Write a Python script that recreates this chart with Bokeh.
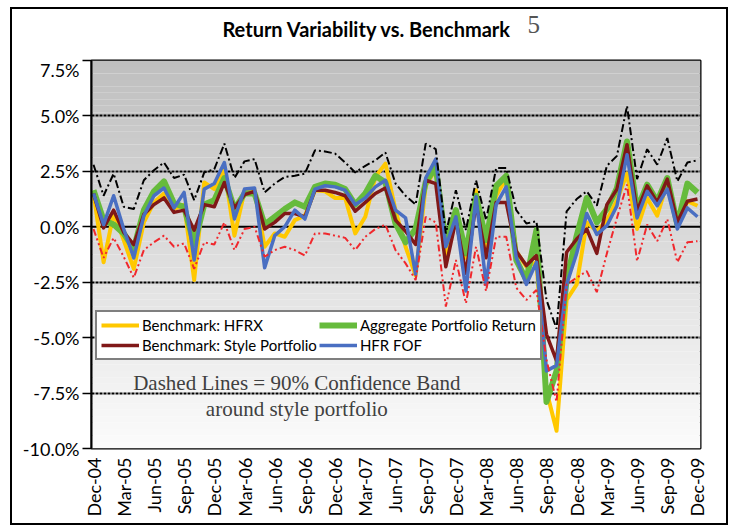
import math
from bokeh.plotting import figure
from bokeh.layouts import column
from bokeh.models import (Range1d, FixedTicker, Span, Label, Legend, LegendItem,
                          PrintfTickFormatter)
from bokeh.embed import file_html
from bokeh.resources import INLINE

# ---------------- data (monthly returns, %) ----------------
months = list(range(61))  # Dec-04 ... Dec-09
tick_labels = ["Dec-04", "Mar-05", "Jun-05", "Sep-05", "Dec-05", "Mar-06", "Jun-06",
               "Sep-06", "Dec-06", "Mar-07", "Jun-07", "Sep-07", "Dec-07", "Mar-08",
               "Jun-08", "Sep-08", "Dec-08", "Mar-09", "Jun-09", "Sep-09", "Dec-09"]
y_ticks = [7.5, 5.0, 2.5, 0.0, -2.5, -5.0, -7.5, -10.0]

hfrx = [1.5, -1.6, 0.6, -0.6, -1.9, 0.2, 1.1, 1.5, 0.8, 1.0,
        -2.4, 2.0, 1.7, 2.6, -0.4, 1.6, 1.65, -0.9, -0.3, -0.45,
        0.3, 0.5, 1.65, 1.6, 1.3, 1.3, -0.3, 0.45, 2.25, 2.85,
        0.75, -0.9, -2.2, 1.85, 2.6, -1.35, 0.5, -1.4, 1.65, -1.1,
        1.4, 2.2, -1.1, -1.8, -1.6, -7.4, -9.2, -3.3, -2.6, 0.2,
        -0.2, 0.3, 1.2, 2.4, -0.1, 1.3, 0.5, 2.0, 0.1, 1.15, 0.95]
aggregate = [1.65, 0.3, 0.1, -0.3, -1.0, 0.75, 1.6, 2.05, 1.05, 0.9,
             -0.8, 1.0, 1.2, 2.2, 0.8, 1.5, 1.5, 0.1, 0.45, 0.8,
             1.1, 0.9, 1.8, 1.95, 1.9, 1.7, 1.0, 1.5, 2.3, 2.0,
             0.15, -0.7, -0.1, 2.0, 2.7, -0.75, 0.75, -1.2, 1.4, -0.6,
             1.85, 2.3, -1.5, -2.4, -0.15, -7.9, -6.5, -2.4, -0.4, 1.3,
             0.2, 0.8, 1.75, 3.85, 0.8, 1.9, 1.15, 2.2, 0.1, 1.95, 1.55]
style = [1.5, -0.05, 0.75, -0.25, -0.8, 0.55, 1.0, 1.3, 0.65, 0.75,
         -0.15, 1.0, 0.9, 2.0, 0.85, 1.45, 1.6, -0.1, 0.2, 0.6,
         0.6, 0.45, 1.65, 1.65, 1.55, 1.4, 0.7, 1.1, 1.5, 1.75,
         0.3, -0.2, -0.8, 2.1, 1.95, -1.8, 0.3, -2.1, 1.05, -1.4,
         1.1, 1.1, -1.1, -1.75, -1.3, -4.85, -6.05, -1.15, -0.55, -0.1,
         -1.2, 1.0, 1.7, 3.7, 0.7, 1.85, 1.1, 2.15, 0.2, 1.15, 1.25]
hfr_fof = [1.5, 0.1, 1.4, -0.1, -1.4, 0.5, 1.4, 1.75, 0.85, 1.55,
           -1.5, 1.7, 1.95, 2.9, 0.35, 1.7, 1.75, -1.85, -0.4, 0.0,
           0.75, 0.35, 1.7, 1.85, 1.8, 1.65, 1.0, 1.3, 1.8, 2.1,
           0.75, 0.4, -2.15, 2.2, 3.05, -0.9, 0.45, -2.9, 1.35, -2.6,
           1.0, 1.8, -1.4, -2.6, -1.6, -6.5, -6.25, -2.6, -1.2, 0.6,
           -0.35, 0.05, 0.95, 3.25, 0.4, 1.6, 0.95, 1.7, -0.1, 0.85, 0.45]
upper_band = [2.8, 1.4, 2.4, 0.9, 0.8, 2.1, 2.55, 2.9, 2.2, 2.35,
              1.2, 2.45, 2.6, 3.75, 2.2, 2.95, 3.05, 1.55, 1.95, 2.25,
              2.3, 2.4, 3.45, 3.4, 3.3, 2.9, 2.45, 2.75, 3.0, 3.35,
              1.95, 1.4, 1.0, 3.75, 3.5, -0.3, 1.65, -0.15, 2.1, 0.3,
              2.65, 2.65, 0.75, 0.15, 0.25, -3.3, -4.6, 0.7, 1.25, 1.6,
              0.95, 2.75, 3.2, 5.45, 2.15, 3.5, 2.8, 4.0, 2.05, 2.9, 3.0]
lower_band = [-0.1, -1.4, -0.5, -1.35, -2.3, -1.05, -0.7, -0.4, -0.9, -0.75,
              -1.9, -0.7, -0.8, 0.2, -1.05, -0.1, 0.0, -1.35, -1.05, -0.9,
              -1.05, -1.3, -0.3, -0.3, -0.4, -0.5, -1.05, -0.45, -0.1, 0.1,
              -1.05, -1.65, -2.4, 0.45, 0.2, -3.6, -1.5, -3.45, -0.9, -2.9,
              -0.45, -0.45, -2.75, -3.3, -2.85, -6.0, -7.9, -2.6, -2.3, -2.0,
              -2.95, -1.2, 0.4, 1.9, -1.55, 0.1, -0.65, 0.35, -1.6, -0.7, -0.65]

title_text = "Return Variability  vs. Benchmark"
title_note = "5"

W = 714
TOP_H = 49
BL, BR = 79, 26  # frame borders shared by both stacked figures

# ---------------- title strip ----------------
top = figure(width=W, height=TOP_H, output_backend="svg", toolbar_location=None,
             x_range=Range1d(BL, W - BR), y_range=Range1d(0, TOP_H),
             x_axis_location=None, y_axis_location=None,
             min_border_left=BL, min_border_right=BR, min_border_top=0,
             min_border_bottom=0)
top.outline_line_color = None
top.grid.grid_line_color = None
top.background_fill_color = "white"
top.border_fill_color = "white"
top.add_layout(Label(x=357, y=30, text=title_text, text_font="Lato",
                     text_font_size="20px", text_font_style="bold", text_color="black",
                     text_align="center", text_baseline="middle"))
top.add_layout(Label(x=515, y=34, text=title_note, text_font="Liberation Serif",
                     text_font_size="25px", text_color="#555555",
                     text_align="left", text_baseline="middle"))

# ---------------- main chart ----------------
X0, X1 = -0.2, 60.3
Y0, Y1 = -10.0, 7.5

p = figure(width=W, height=465, output_backend="svg", toolbar_location=None,
           x_range=Range1d(X0, X1), y_range=Range1d(Y0, Y1),
           min_border_left=BL, min_border_right=BR, min_border_top=2,
           min_border_bottom=75)
p.background_fill_color = "white"
p.border_fill_color = "white"
p.outline_line_color = "black"
p.outline_line_width = 2

# gradient background (grey at top -> white at bottom)
n = 60
bots, tops, cols = [], [], []
for k in range(n):
    b = Y0 + (Y1 - Y0) * k / n
    t = Y0 + (Y1 - Y0) * (k + 1) / n
    f = (k + 0.5) / n
    c = int(round(252 - (252 - 190) * f))
    bots.append(b); tops.append(t); cols.append("#%02x%02x%02x" % (c, c, c))
bg = p.quad(left=X0, right=X1, bottom=bots, top=tops, fill_color=cols, line_color=None)
bg.level = "image"

# grid
p.xgrid.grid_line_color = None
p.ygrid.ticker = FixedTicker(ticks=[t for t in y_ticks if t != 0.0])
p.ygrid.grid_line_color = "black"
p.ygrid.grid_line_width = 2
p.ygrid.grid_line_dash = "3 1"
p.add_layout(Span(location=0, dimension="width", line_color="black", line_width=2,
                  level="underlay"))

# axes
p.yaxis.ticker = FixedTicker(ticks=y_ticks)
p.yaxis.formatter = PrintfTickFormatter(format="%.1f%%")
p.yaxis.major_label_text_font = "Lato"
p.yaxis.major_label_text_font_size = "18px"
p.yaxis.major_label_text_color = "black"
p.yaxis.major_tick_out = 9
p.yaxis.major_tick_in = 0
p.yaxis.major_tick_line_color = "black"
p.yaxis.major_tick_line_width = 1.5
p.yaxis.minor_tick_line_color = None
p.yaxis.axis_line_color = "black"
p.yaxis.axis_line_width = 2
p.yaxis.major_label_standoff = 3

xt = list(range(0, 61, 3))
p.xaxis.ticker = FixedTicker(ticks=xt)
p.xaxis.major_label_overrides = {t: l for t, l in zip(xt, tick_labels)}
p.xaxis.major_label_orientation = math.pi / 2
p.xaxis.major_label_text_font = "Lato"
p.xaxis.major_label_text_font_size = "18px"
p.xaxis.major_label_text_color = "black"
p.xaxis.major_tick_out = 0
p.xaxis.major_tick_in = 0
p.xaxis.minor_tick_line_color = None
p.xaxis.axis_line_color = None
p.xaxis.major_label_standoff = 9

# series
r_hfrx = p.line(months, hfrx, line_color="#FFC800", line_width=4, line_join="round")
r_agg = p.line(months, aggregate, line_color="#66BB3C", line_width=6, line_join="round")
r_style = p.line(months, style, line_color="#801818", line_width=3.5, line_join="round")
r_fof = p.line(months, hfr_fof, line_color="#4A6FC2", line_width=3.5, line_join="round")
p.line(months, upper_band, line_color="black", line_width=2, line_dash="8 3 2 3")
p.line(months, lower_band, line_color="#F0282D", line_width=2, line_dash="7 3 2 3 2 3")

legend = Legend(items=[LegendItem(label="Benchmark: HFRX", renderers=[r_hfrx]),
                       LegendItem(label="Aggregate Portfolio Return", renderers=[r_agg]),
                       LegendItem(label="Benchmark: Style Portfolio", renderers=[r_style]),
                       LegendItem(label="HFR FOF", renderers=[r_fof])],
                orientation="horizontal", ncols=2, location=(4, 88))
legend.label_text_font = "Lato"
legend.label_text_font_size = "15px"
legend.label_text_color = "black"
legend.label_height = 18
legend.glyph_height = 18
legend.glyph_width = 38
legend.label_standoff = 3
legend.spacing = 2
legend.padding = 4
legend.margin = 0
legend.border_line_color = "black"
legend.border_line_width = 2
legend.background_fill_color = "white"
legend.background_fill_alpha = 1.0
p.add_layout(legend)

# annotations
p.add_layout(Label(x=20.2, y=-7.03, text="Dashed Lines = 90% Confidence Band",
                   text_font="Liberation Serif", text_font_size="21px",
                   text_color="#404040", text_align="center", text_baseline="middle"))
p.add_layout(Label(x=20.2, y=-8.2, text="around style portfolio",
                   text_font="Liberation Serif", text_font_size="21px",
                   text_color="#404040", text_align="center", text_baseline="middle"))

layout = column(top, p, spacing=0,
                styles={"border": "2px solid black", "margin-left": "10px",
                        "margin-top": "7px"})

open("out.html", "w").write(file_html(layout, INLINE))
